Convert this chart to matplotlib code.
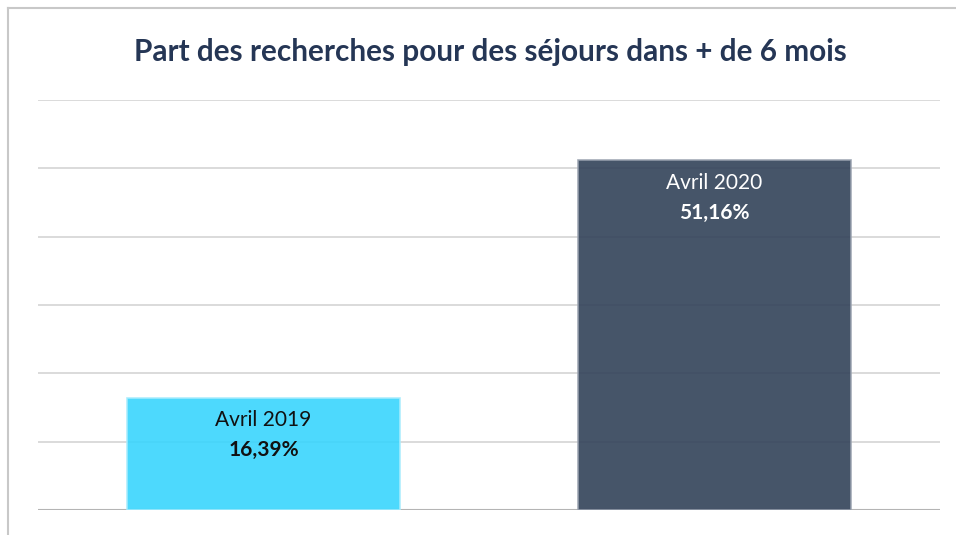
import matplotlib.pyplot as plt
from matplotlib.lines import Line2D

periods = ['Avril 2019', 'Avril 2020']
shares = [16.39, 51.16]
share_labels = ['16,39%', '51,16%']
title = 'Part des recherches pour des séjours dans + de 6 mois'

plt.rcParams['font.family'] = ['Lato', 'DejaVu Sans']

fig = plt.figure(figsize=(9.56, 5.35), dpi=100)
ax = fig.add_axes([0.0397, 0.0467, 0.9436, 0.7663])

bar_colors = ['#39d5fd', '#324259']
edge_colors = ['#a8ecfd', '#9aa3b0']
text_colors = ['#111111', '#ffffff']
x = range(len(periods))
bars = ax.bar(x, shares, width=0.605, color=bar_colors, alpha=0.9,
              edgecolor=edge_colors, linewidth=1.2, zorder=3)

for i, b in enumerate(bars):
    top = b.get_height()
    ax.annotate(periods[i], (b.get_x() + b.get_width() / 2, top),
                xytext=(0, -16), textcoords='offset points',
                ha='center', va='center', fontsize=15, color=text_colors[i], zorder=4)
    ax.annotate(share_labels[i], (b.get_x() + b.get_width() / 2, top),
                xytext=(0, -37.5), textcoords='offset points',
                ha='center', va='center', fontsize=15, fontweight='bold',
                color=text_colors[i], zorder=4)

ax.set_xlim(-0.5, 1.5)
ax.set_ylim(0, 60)
ax.set_yticks(range(0, 61, 10))
ax.grid(axis='y', color='#d4d4d4', linewidth=1.2, zorder=0)
ax.tick_params(left=False, bottom=False, labelleft=False, labelbottom=False)
for s in ax.spines.values():
    s.set_visible(False)
ax.axhline(0, color='#b4b4b4', linewidth=1.5, zorder=2)

fig.text(0.5126, 0.903, title, ha='center', va='center', fontsize=21.4,
         fontweight='bold', color='#253655')

# outer frame (only left and top visible)
fig.add_artist(Line2D([0.0084, 0.0084], [0, 0.985], color='#c8c8c8', lw=1.5))
fig.add_artist(Line2D([0.0084, 1], [0.985, 0.985], color='#c8c8c8', lw=1.5))

fig.savefig('out.png', dpi=100)
